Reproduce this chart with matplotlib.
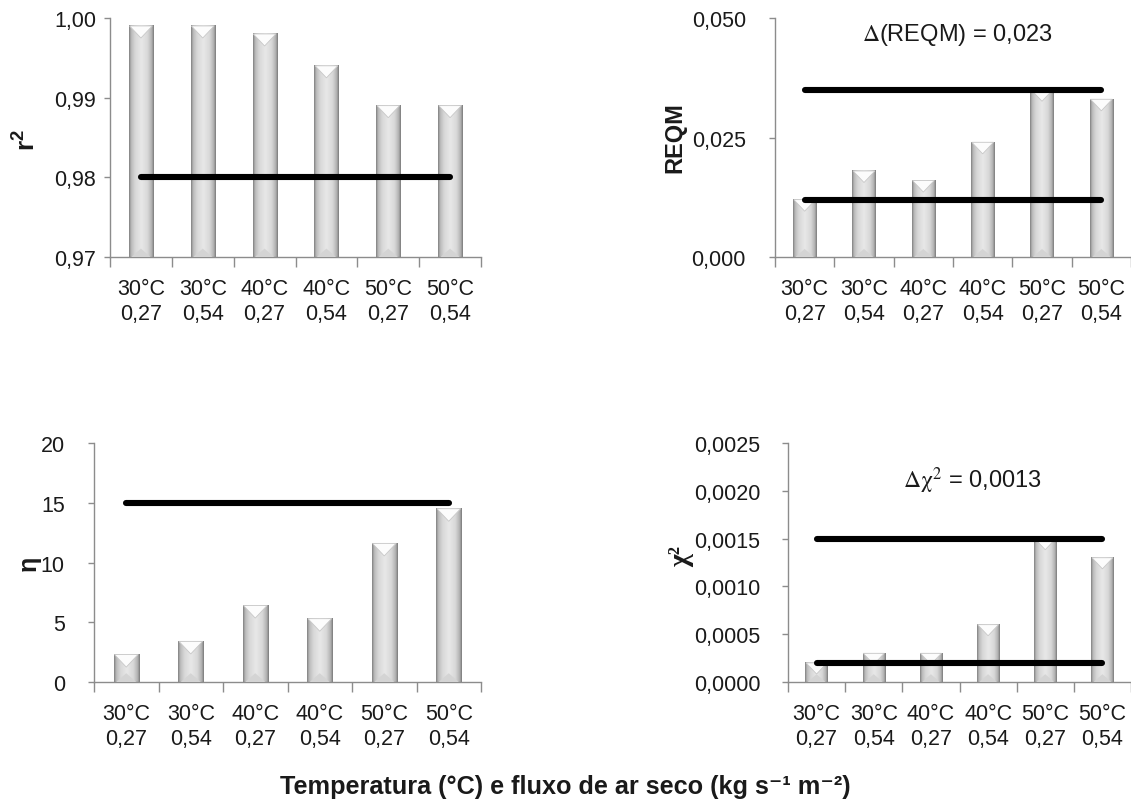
import matplotlib
matplotlib.use("Agg")
import matplotlib.pyplot as plt
import numpy as np
from matplotlib.colors import LinearSegmentedColormap
from matplotlib.patches import Polygon

plt.rcParams['font.family'] = ['Liberation Sans', 'DejaVu Sans']
plt.rcParams['mathtext.fontset'] = 'custom'
plt.rcParams['mathtext.rm'] = 'Liberation Sans'
plt.rcParams['mathtext.bf'] = 'Liberation Sans:bold'
plt.rcParams['mathtext.it'] = 'Liberation Sans:italic'

# ---------------- data ----------------
temps = ["30°C", "30°C", "40°C", "40°C", "50°C", "50°C"]
flows = ["0,27", "0,54", "0,27", "0,54", "0,27", "0,54"]
r2_vals = [0.999, 0.999, 0.998, 0.994, 0.989, 0.989]
reqm_vals = [0.012, 0.018, 0.016, 0.024, 0.035, 0.033]
eta_vals = [2.3, 3.4, 6.4, 5.3, 11.6, 14.5]
chi2_vals = [0.0002, 0.0003, 0.0003, 0.0006, 0.0015, 0.0013]
r2_lines = [0.98]
reqm_lines = [0.035, 0.012]
eta_lines = [15]
chi2_lines = [0.0015, 0.0002]
r2_ticks = [0.97, 0.98, 0.99, 1.00]
r2_ticklabels = ["0,97", "0,98", "0,99", "1,00"]
reqm_ticks = [0.0, 0.025, 0.050]
reqm_ticklabels = ["0,000", "0,025", "0,050"]
eta_ticks = [0, 5, 10, 15, 20]
eta_ticklabels = ["0", "5", "10", "15", "20"]
chi2_ticks = [0.0, 0.0005, 0.0010, 0.0015, 0.0020, 0.0025]
chi2_ticklabels = ["0,0000", "0,0005", "0,0010", "0,0015", "0,0020", "0,0025"]

W, H = 1131, 804
fig = plt.figure(figsize=(W / 100, H / 100), dpi=100)

TXT = '#1a1a1a'
SPINE = '#8c8c8c'

cmap = LinearSegmentedColormap.from_list(
    'cyl', [(0.0, '#7a7a7a'), (0.08, '#b8b8b8'), (0.25, '#d8d8d8'),
            (0.5, '#e8e8e8'), (0.75, '#d8d8d8'), (0.92, '#b0b0b0'),
            (1.0, '#747474')])
grad = np.linspace(0, 1, 256).reshape(1, -1)


def px_axes(x0, x1, ytop, ybot):
    return fig.add_axes([x0 / W, (H - ybot) / H, (x1 - x0) / W, (ybot - ytop) / H])


def panel(ax, vals, lines, yticks, yticklabels, ylim, ypad, barw=0.39):
    n = len(vals)
    x = np.arange(n)
    ax.set_xlim(-0.5, n - 0.5)
    ax.set_ylim(*ylim)
    bars = ax.bar(x, vals, width=barw, color='none', edgecolor='none')
    ax_h_px = ax.get_position().height * H
    ax_w_px = ax.get_position().width * W
    dy_per_px = (ylim[1] - ylim[0]) / ax_h_px
    for b in bars:
        x0 = b.get_x()
        x1 = x0 + b.get_width()
        top = b.get_height()
        base = ylim[0]
        ax.imshow(grad, extent=[x0, x1, base, top], aspect='auto', cmap=cmap,
                  interpolation='bicubic', zorder=2)
        wpx = b.get_width() * ax_w_px / n
        d = 0.5 * wpx * dy_per_px
        xc = (x0 + x1) / 2
        ax.add_patch(Polygon([(x0 + 0.03 * barw, top), (x1 - 0.03 * barw, top), (xc, top - d)],
                             closed=True, facecolor='#fcfcfc', edgecolor='#c8c8c8',
                             lw=0.6, zorder=3))
        ax.add_patch(Polygon([(x0 + 0.1 * barw, base), (x1 - 0.1 * barw, base), (xc, base + 0.7 * d)],
                             closed=True, facecolor='#d4d4d4', edgecolor='none', zorder=3))
    for lv in lines:
        ax.plot([0, n - 1], [lv, lv], color='black', lw=4.4,
                solid_capstyle='round', zorder=5)
    ax.set_xlim(-0.5, n - 0.5)
    ax.set_ylim(*ylim)
    for s in ['top', 'right']:
        ax.spines[s].set_visible(False)
    for s in ['left', 'bottom']:
        ax.spines[s].set_color(SPINE)
        ax.spines[s].set_linewidth(1.0)
    ax.set_yticks(yticks)
    ax.set_yticklabels(yticklabels)
    ax.tick_params(axis='y', direction='out', length=4, width=1, color=SPINE,
                   labelsize=15.5, labelcolor=TXT, pad=ypad)
    ax.set_xticks(np.arange(n + 1) - 0.5)
    ax.set_xticklabels([])
    ax.tick_params(axis='x', which='major', direction='out', length=7, width=1,
                   color=SPINE)
    ax.set_xticks(x, minor=True)
    ax.set_xticklabels([f"{t}\n{f}" for t, f in zip(temps, flows)], minor=True,
                       fontsize=15.5, color=TXT, linespacing=1.25)
    ax.tick_params(axis='x', which='minor', length=0, pad=15)
    ax.set_facecolor('none')


ax1 = px_axes(110, 481, 19, 258)
panel(ax1, r2_vals, r2_lines, r2_ticks, r2_ticklabels, (0.97, 1.00), 6)
ax2 = px_axes(775, 1131, 19, 258)
panel(ax2, reqm_vals, reqm_lines, reqm_ticks, reqm_ticklabels, (0.0, 0.050), 17)
ax3 = px_axes(94, 481, 444, 683)
panel(ax3, eta_vals, eta_lines, eta_ticks, eta_ticklabels, (0, 20), 17)
ax4 = px_axes(788, 1131, 444, 683)
panel(ax4, chi2_vals, chi2_lines, chi2_ticks, chi2_ticklabels, (0.0, 0.0025), 16)


def ftext(x, y, s, **kw):
    return fig.text(x / W, 1 - y / H, s, **kw)


ftext(27, 140, r"r$^{\mathbf{2}}$", rotation=90, fontsize=19, fontweight='bold', color=TXT,
      ha='center', va='center')
ftext(675, 138, "REQM", rotation=90, fontsize=17, fontweight='bold', color=TXT,
      ha='center', va='center')
ftext(29, 563, "η", rotation=90, fontsize=18, fontweight='bold', color=TXT,
      ha='center', va='center')
ftext(682, 557, "χ²", rotation=90, fontsize=20, fontweight='bold', color=TXT,
      family=['Liberation Serif', 'DejaVu Serif'], ha='center', va='center')

t = ftext(957, 35, r"$\Delta$(REQM) = 0,023", fontsize=17, color=TXT,
          ha='center', va='center')
t.set_math_fontfamily('stix')
t = ftext(972, 481, r"$\Delta\mathrm{\chi}^{2}$ = 0,0013", fontsize=17, color=TXT,
          ha='center', va='center')
t.set_math_fontfamily('stix')

ftext(565, 787, "Temperatura (°C) e fluxo de ar seco (kg s⁻¹ m⁻²)",
      fontsize=18.2, fontweight='bold', color=TXT, ha='center', va='center')

fig.savefig("out.png", dpi=100)
